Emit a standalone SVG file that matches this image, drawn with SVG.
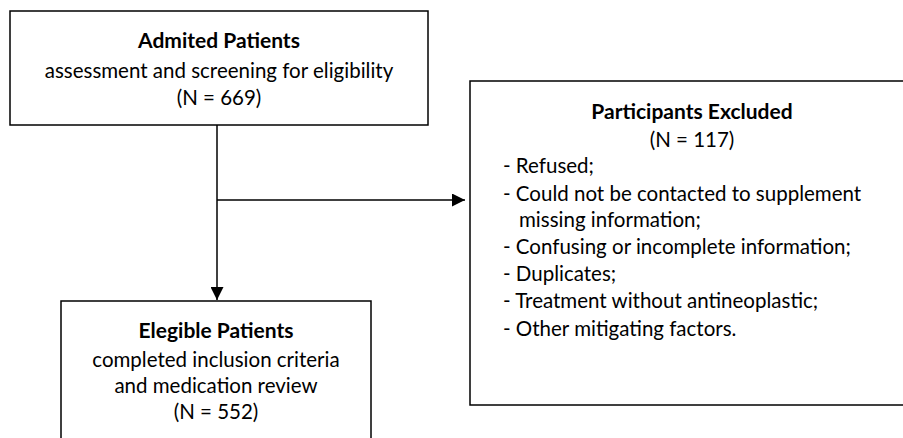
<svg xmlns="http://www.w3.org/2000/svg" width="903" height="438" viewBox="0 0 903 438">
<defs>
<marker id="arr" markerWidth="13" markerHeight="13" refX="13" refY="6.5" orient="auto" markerUnits="userSpaceOnUse">
<path d="M0,0 L13,6.5 L0,13 Z" fill="#000"/>
</marker>
<style>
.box{fill:#fff;stroke:#000;stroke-width:1.5}
.t{font-family:Lato,"Liberation Sans",sans-serif;font-size:20.5px;fill:#000}
.c{text-anchor:middle}
.b{font-weight:bold;font-size:21px}
.ln{stroke:#000;stroke-width:1.5;fill:none}
</style>
</defs>
<rect width="903" height="438" fill="#fff"/>
<g id="connectors">
<line class="ln" x1="217" y1="125" x2="217" y2="300" marker-end="url(#arr)"/>
<line class="ln" x1="217" y1="200" x2="465" y2="200" marker-end="url(#arr)"/>
</g>
<g id="admitted">
<rect class="box" x="10" y="11" width="418" height="114"/>
<text class="t c b" x="219" y="48">Admited Patients</text>
<text class="t c" x="219" y="78">assessment and screening for eligibility</text>
<text class="t c" x="219" y="105">(N = 669)</text>
</g>
<g id="excluded">
<rect class="box" x="470" y="81" width="440" height="324"/>
<text class="t c b" x="692" y="119">Participants Excluded</text>
<text class="t c" x="692" y="147">(N = 117)</text>
<text class="t" x="503" y="173">- Refused;</text>
<text class="t" x="503" y="201">- Could not be contacted to supplement</text>
<text class="t" x="519" y="227">missing information;</text>
<text class="t" x="503" y="254">- Confusing or incomplete information;</text>
<text class="t" x="503" y="281">- Duplicates;</text>
<text class="t" x="503" y="308">- Treatment without antineoplastic;</text>
<text class="t" x="503" y="336">- Other mitigating factors.</text>
</g>
<g id="eligible">
<rect class="box" x="61" y="301" width="310" height="150"/>
<text class="t c b" x="216" y="338">Elegible Patients</text>
<text class="t c" x="216" y="367">completed inclusion criteria</text>
<text class="t c" x="216" y="393">and medication review</text>
<text class="t c" x="216" y="419">(N = 552)</text>
</g>
</svg>
